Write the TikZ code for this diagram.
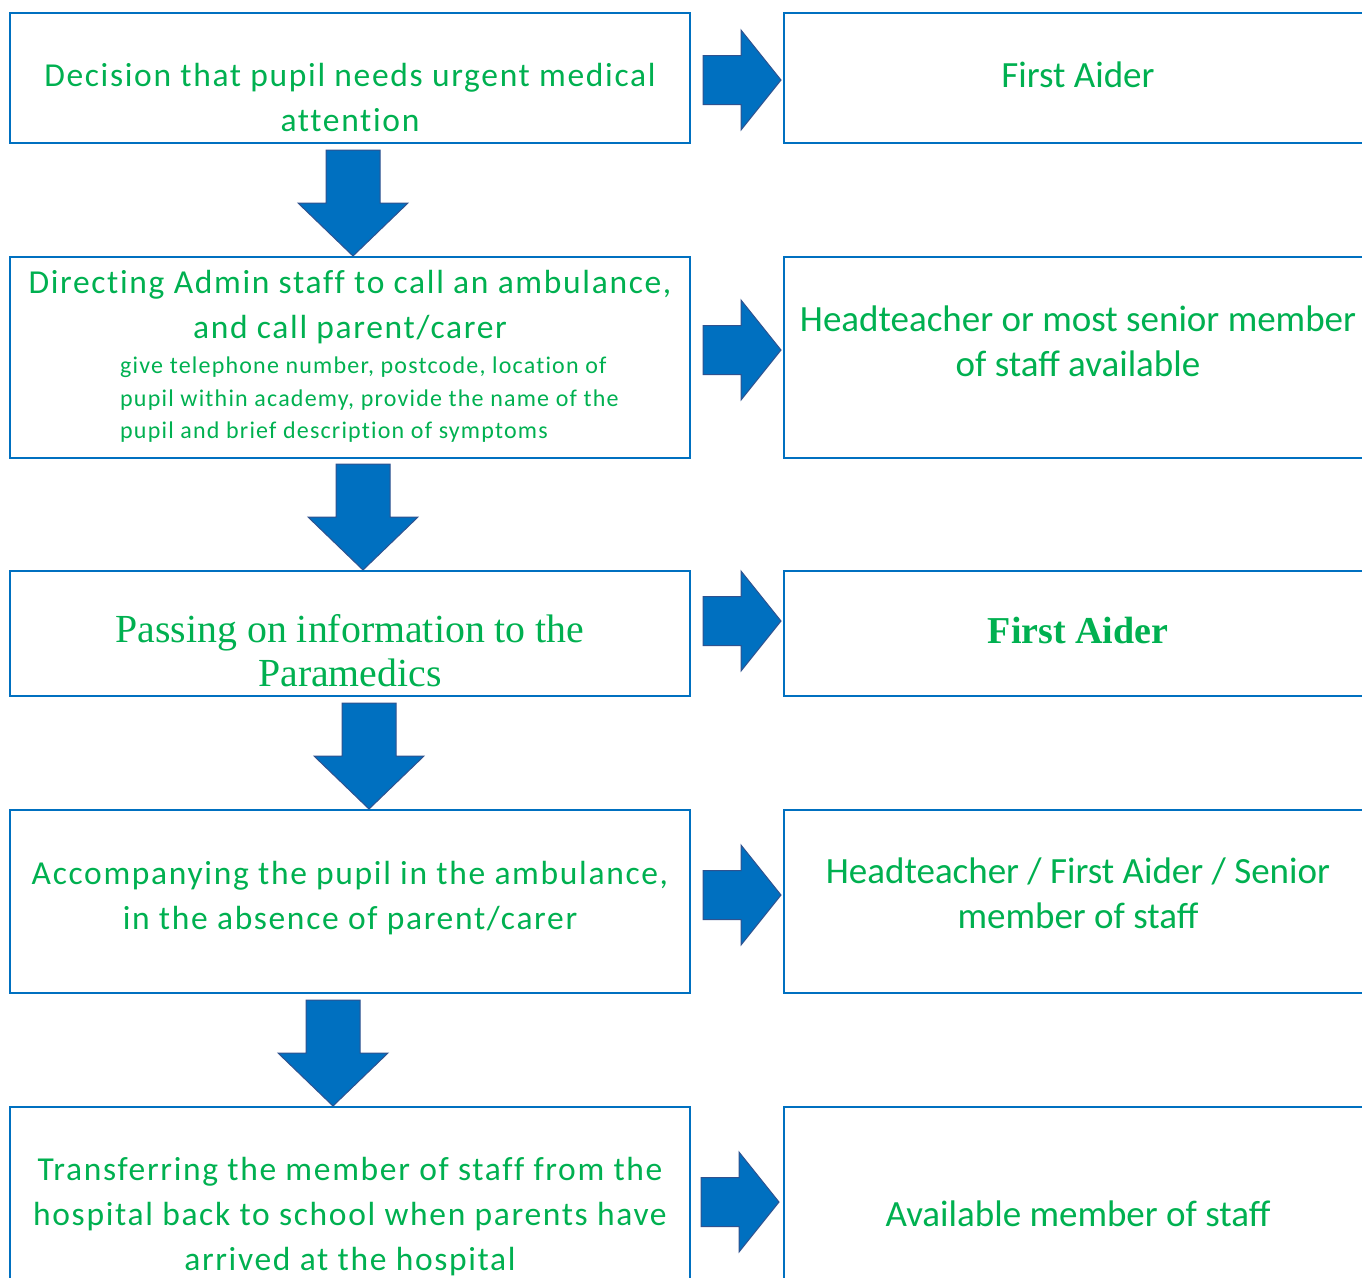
\documentclass[tikz,border=0pt]{standalone}
\usepackage{fontspec}
\setsansfont{Carlito}
\setmainfont{Liberation Serif}
\newfontfamily\widesans[LetterSpace=5,Ligatures=NoCommon]{Carlito}
\usetikzlibrary{calc}
\definecolor{boxblue}{HTML}{0070C0}
\definecolor{arrowedge}{HTML}{2F528F}
\definecolor{textgreen}{HTML}{00B050}

\begin{document}
\begin{tikzpicture}[x=1pt,y=-1pt,
  box/.style={draw=boxblue,line width=2pt,minimum width=680pt,inner sep=0pt},
  rbox/.style={box,minimum width=588pt},
  lefttext/.style={text=textgreen,align=center,inner sep=0pt,font=\widesans\fontsize{33.5}{45}\selectfont},
  smalltext/.style={lefttext,align=left,font=\widesans\fontsize{24}{32.5}\selectfont},
  righttext/.style={text=textgreen,align=center,inner sep=0pt,font=\sffamily\fontsize{37}{45}\selectfont},
  seriftext/.style={righttext,font=\rmfamily\fontsize{39.8}{44}\selectfont},
  boldserif/.style={righttext,font=\rmfamily\bfseries\fontsize{38}{44}\selectfont},
  blockfill/.style={fill=boxblue,draw=arrowedge,line width=1pt},
  downarrow/.pic={\filldraw[blockfill] (0,0) -- (-55,-53) -- (-27,-53) -- (-27,-106) -- (27,-106) -- (27,-53) -- (55,-53) -- cycle;},
  rightarrow/.pic={\filldraw[blockfill] (0,0) -- (-40,-50) -- (-40,-24.5) -- (-78,-24.5) -- (-78,24.5) -- (-40,24.5) -- (-40,50) -- cycle;}]
  \useasboundingbox (0,0) rectangle (1362,1277);

  \node[box,minimum height=130pt] (l1) at (350,78) {};
  \node[box,minimum height=201pt] (l2) at (350,357.5) {};
  \node[box,minimum height=125pt] (l3) at (350,633.5) {};
  \node[box,minimum height=183pt] (l4) at (350,901.5) {};
  \node[box,minimum height=218pt] (l5) at (350,1216) {};
  \node[rbox,minimum height=130pt] (r1) at (1078,78) {};
  \node[rbox,minimum height=201pt] (r2) at (1078,357.5) {};
  \node[rbox,minimum height=125pt] (r3) at (1078,633.5) {};
  \node[rbox,minimum height=183pt] (r4) at (1078,901.5) {};
  \node[rbox,minimum height=218pt] (r5) at (1078,1216) {};

  \node[lefttext] (decision) at (350,97.7) {Decision that pupil needs urgent medical\\attention};
  \node[lefttext] (directing) at (350,307) {Directing Admin staff to call an ambulance,\\and call parent/carer};
  \node[smalltext,anchor=west] (details) at (120,400) {give telephone number, postcode, location of\\pupil within academy, provide the name of the\\pupil and brief description of symptoms};
  \node[seriftext] (passing) at (350,651) {Passing on information to the\\Paramedics};
  \node[lefttext] (accompany) at (350,898) {Accompanying the pupil in the ambulance,\\in the absence of parent/carer};
  \node[lefttext] (transfer) at (350,1217) {Transferring the member of staff from the\\hospital back to school when parents have\\arrived at the hospital};

  \node[righttext,anchor=base] (aider) at (1078,87) {First Aider};
  \node[righttext] (head) at (1078,341) {Headteacher or most senior member\\of staff available};
  \node[boldserif,anchor=base] (aiderb) at (1078,643) {First Aider};
  \node[righttext] (senior) at (1078,893) {Headteacher / First Aider / Senior\\member of staff};
  \node[righttext,anchor=base] (avail) at (1078,1226) {Available member of staff};

  \pic at ($(l2.north)+(3,0)$) {downarrow};
  \pic at ($(l3.north)+(13,0)$) {downarrow};
  \pic at ($(l4.north)+(19,0)$) {downarrow};
  \pic at ($(l5.north)+(-17,0)$) {downarrow};
  \pic at ($(r1.west)+(-2,2)$) {rightarrow};
  \pic at ($(r2.west)+(-2,-7.5)$) {rightarrow};
  \pic at ($(r3.west)+(-2,-12.5)$) {rightarrow};
  \pic at ($(r4.west)+(-2,-6.5)$) {rightarrow};
  \pic at ($(r5.west)+(-4,-14)$) {rightarrow};
\end{tikzpicture}
\end{document}
